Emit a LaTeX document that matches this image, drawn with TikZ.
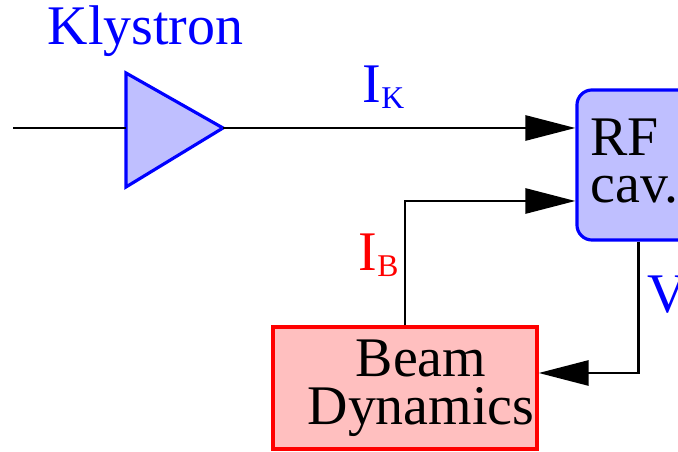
\documentclass[tikz,border=0pt]{standalone}
\usepackage{fontspec}
\setmainfont{Liberation Serif}
\usetikzlibrary{arrows.meta}
\definecolor{lblue}{RGB}{191,191,255}
\definecolor{lred}{RGB}{255,191,191}
\begin{document}
\begin{tikzpicture}[x=0.01cm,y=-0.01cm,
  txt/.style={inner sep=0pt,anchor=base west,font=\fontsize{15.9}{13.6}\selectfont},
  conn/.style={line width=0.8pt,black},
  arr/.style={conn,-{Triangle[length=14.2pt,width=7.1pt]}},
  rfbox/.style={draw=blue,fill=lblue,line width=0.9pt,rounded corners=4.3pt,minimum width=1.23cm,minimum height=1.5cm,inner sep=0pt},
  bdbox/.style={draw=red,fill=lred,line width=0.9pt,minimum width=2.64cm,minimum height=1.22cm,inner sep=0pt}]
\useasboundingbox (0,0) rectangle (678,452);
% klystron triangle
\coordinate (kin) at (126,128);
\coordinate (ktip) at (223,128);
\coordinate (start) at (13,128);
\filldraw[draw=blue,fill=lblue,line width=0.9pt,line join=miter] (126,73) -- (ktip) -- (126,187) -- cycle;
\node[txt,text=blue] (klys) at (47,45) {Klystron};
% boxes
\node[rfbox] (rf) at (638.5,165) {};
\node[txt,align=left] (rft) at (590,203) {RF\\cav.};
\node[bdbox] (bd) at (405,388) {};
\node[inner sep=0pt,align=center,font=\fontsize{15.9}{13.6}\selectfont] (bdt) at (421,388) {Beam\\Dynamics};
% connectors
\draw[conn] (start) -- (kin);
\draw[arr] (ktip) -- (rf.west |- ktip);
\draw[arr] (bd.north) |- (rf.west |- 405,201);
\draw[arr] (rf.south) |- (bd.east |- 405,373);
% labels
\node[txt,text=blue] (ik) at (362,103) {I\raisebox{-1.7pt}{\fontsize{9}{9}\selectfont K}};
\node[txt,text=red] (ibl) at (358,271) {I\raisebox{-1.7pt}{\fontsize{9}{9}\selectfont B}};
\node[txt,text=blue] (vl) at (647,313) {V};
\end{tikzpicture}
\end{document}
